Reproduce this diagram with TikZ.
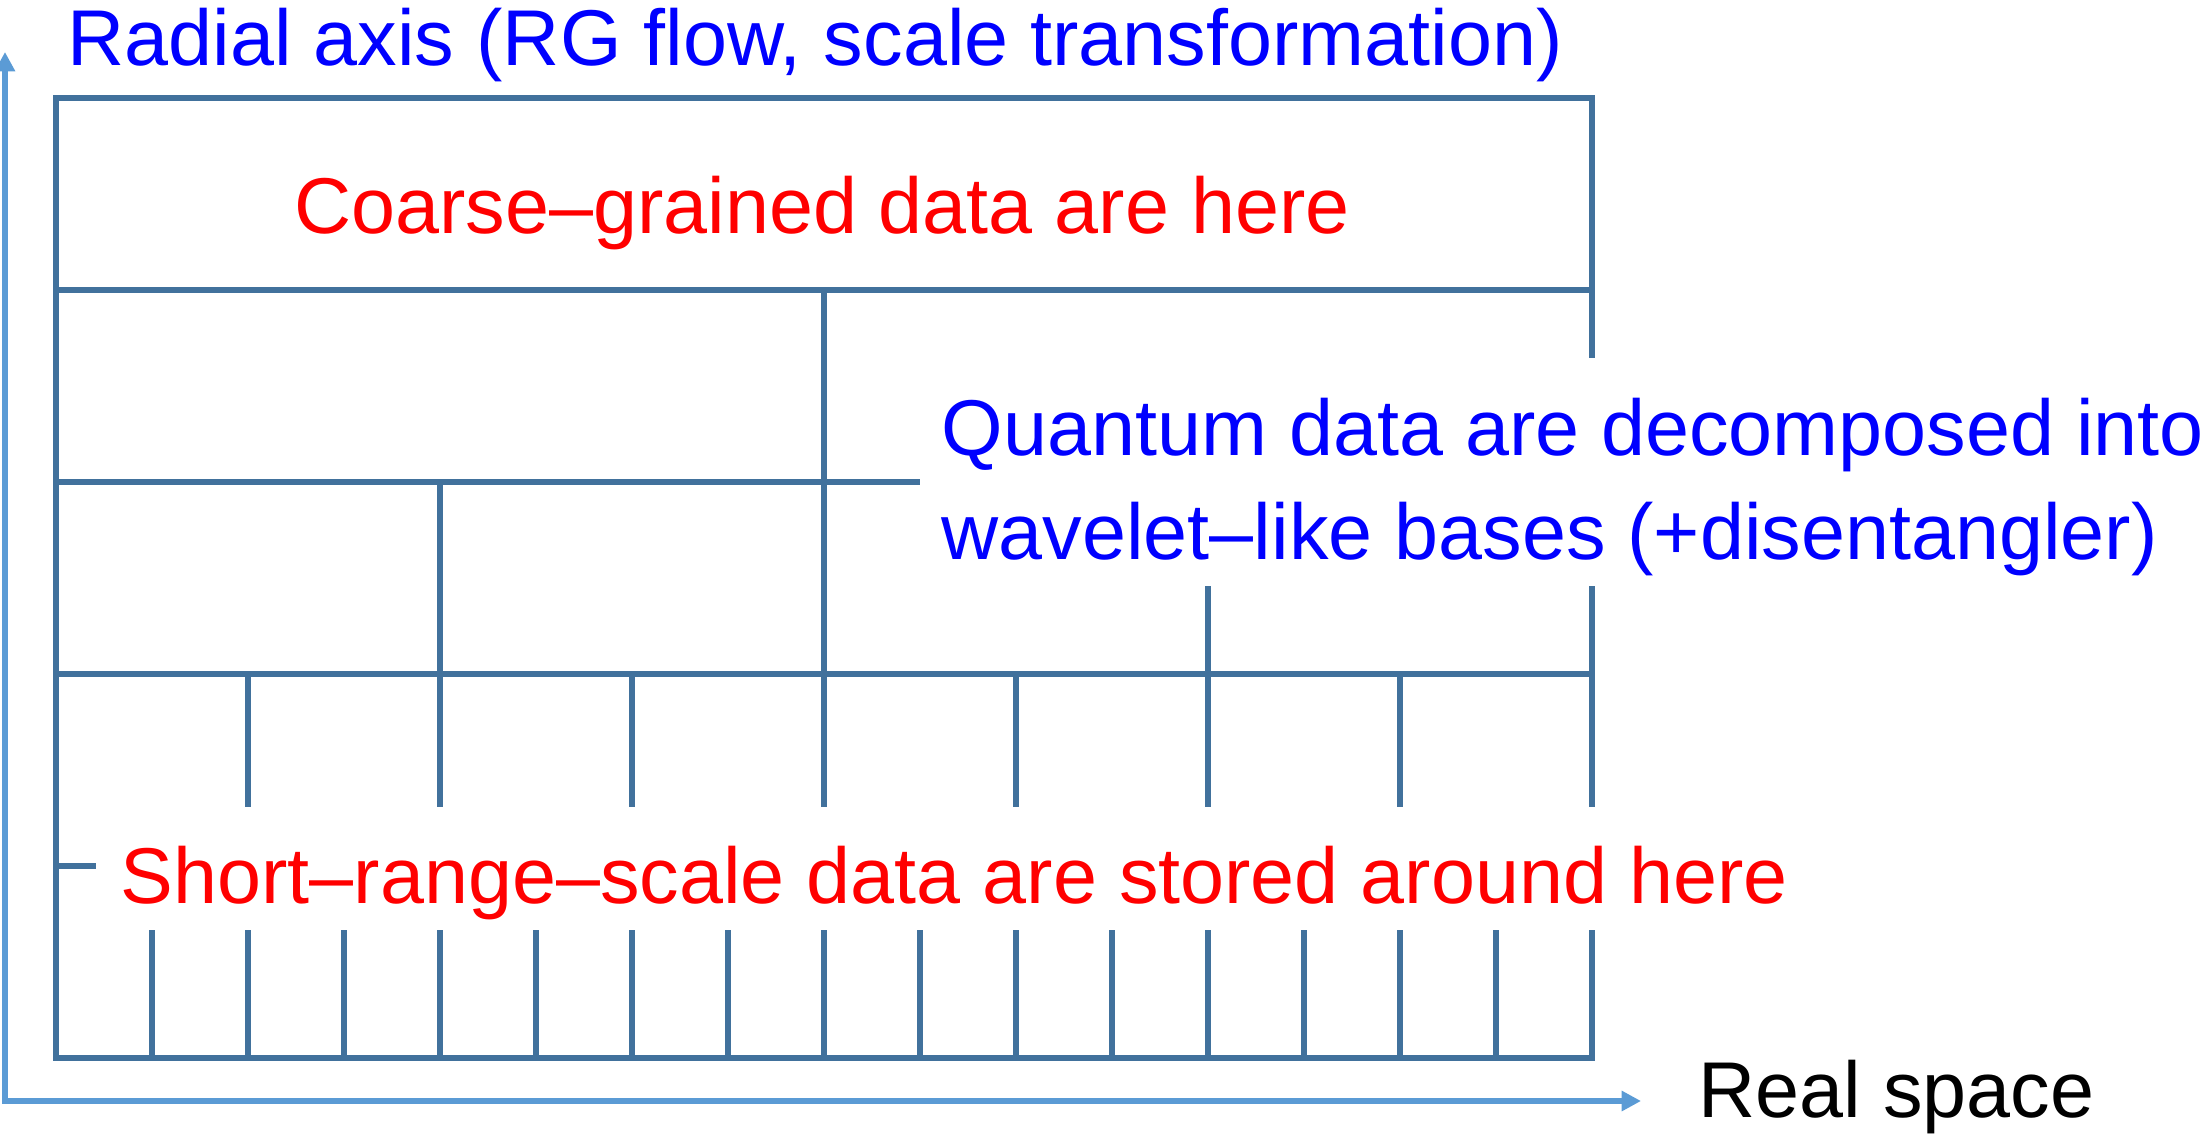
\documentclass[tikz,border=0pt]{standalone}
\usepackage{fontspec}
\setmainfont{Liberation Sans}
\usetikzlibrary{arrows.meta}
\definecolor{gridblue}{HTML}{41719C}
\definecolor{axisblue}{HTML}{5B9BD5}
\begin{document}
\begin{tikzpicture}[x=0.01cm,y=-0.01cm,
  gridline/.style={draw=gridblue,line width=1.5pt},
  axisline/.style={draw=axisblue,line width=1.6pt,line join=miter},
  lbl/.style={inner sep=0pt,anchor=base west,font=\fontsize{22.5}{27}\selectfont}]
\useasboundingbox(0,0)rectangle(2210,1137);
% axes
\coordinate(O)at(5,1101);
\coordinate(ytip)at(5,52);
\coordinate(xtip)at(1641,1101);
\draw[axisline,{Triangle[length=5.5pt,width=5.5pt]}-{Triangle[length=5.5pt,width=5.5pt]}](ytip)--(O)--(xtip);
\node[lbl](radial)at(67,66){\color{blue}Radial axis (RG flow, scale transformation)};
\node[lbl](real)at(1698,1117){Real space};
% frame and layers
\draw[gridline](1592,358)--(1592,98)--(56,98)--(56,1058)--(1592,1058)--(1592,930);
\draw[gridline](1592,586)--(1592,807);
\draw[gridline](56,290)--(1592,290);
\draw[gridline](56,482)--(920,482);
\draw[gridline](56,674)--(1592,674);
\draw[gridline](56,866)--(96,866);
\draw[gridline](824,290)--(824,807);
\draw[gridline](440,482)--(440,807);
\draw[gridline](1208,586)--(1208,807);
\draw[gridline](248,674)--(248,807) (632,674)--(632,807)
  (1016,674)--(1016,807) (1400,674)--(1400,807);
% bottom layer
\draw[gridline](152,930)--(152,1058) (248,930)--(248,1058) (344,930)--(344,1058)
  (440,930)--(440,1058) (536,930)--(536,1058) (632,930)--(632,1058)
  (728,930)--(728,1058) (824,930)--(824,1058) (920,930)--(920,1058)
  (1016,930)--(1016,1058) (1112,930)--(1112,1058) (1208,930)--(1208,1058)
  (1304,930)--(1304,1058) (1400,930)--(1400,1058) (1496,930)--(1496,1058);
% labels
\node[lbl,anchor=base](coarse)at(822,234){\color{red}Coarse--grained data are here};
\node[lbl](quantum)at(941,456){\color{blue}Quantum data are decomposed into};
\node[lbl](wavelet)at(941,559){\color{blue}wavelet--like bases (+disentangler)};
\node[lbl](short)at(120,903){\color{red}Short--range--scale data are stored around here};
\end{tikzpicture}
\end{document}
